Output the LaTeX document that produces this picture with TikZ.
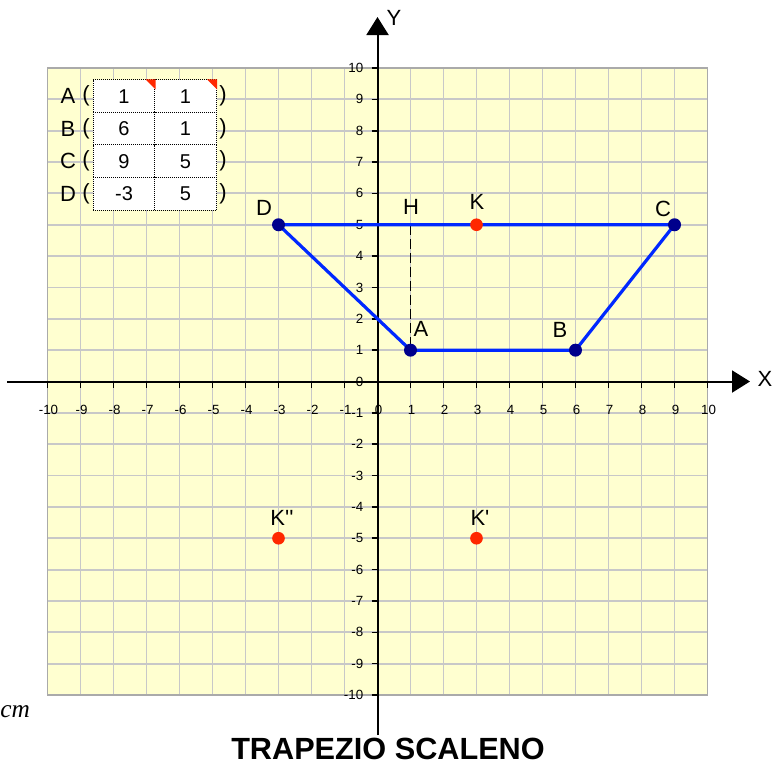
\documentclass[tikz,border=0pt]{standalone}
\usepackage{fontspec}
\setmainfont{Liberation Sans}
\newfontfamily\serifit{Liberation Serif}
\usetikzlibrary{arrows.meta}
\definecolor{gridbg}{RGB}{255,255,208}
\definecolor{gridln}{RGB}{200,200,200}
\definecolor{gridbd}{RGB}{170,170,170}
\definecolor{trapblue}{RGB}{0,40,255}
\definecolor{navy}{RGB}{0,0,140}
\definecolor{kred}{RGB}{255,40,0}
\begin{document}
\begin{tikzpicture}[x=0.75pt,y=-0.75pt,
  ticklab/.style={font=\fontsize{10}{10}\selectfont, inner sep=0pt},
  ptlab/.style={font=\fontsize{16.5}{16.5}\selectfont, inner sep=0pt},
  tablab/.style={font=\fontsize{16.5}{16.5}\selectfont, inner sep=0pt},
  cellnum/.style={draw, dash pattern=on 0.75pt off 0.75pt, line width=0.75pt, fill=white,
     minimum width=46.5pt, minimum height=24.4pt, inner sep=0pt,
     font=\fontsize{15}{15}\selectfont},
  vertex/.style={circle, fill=navy, inner sep=0pt, minimum size=9.75pt},
  kdot/.style={circle, fill=kred, inner sep=0pt, minimum size=9.5pt},
  trap/.style={trapblue, line width=2.4pt, line join=round},
  axisline/.style={black, line width=1.5pt},
  tickline/.style={black, line width=1.2pt},
  corner/.style={fill=kred},
]
\useasboundingbox (0,0) rectangle (774,764);

% ---------- grid ----------
\begin{scope}[shift={(377.5,381.5)}, x=24.75pt, y=23.5125pt]
  \fill[gridbg] (-10,-10) rectangle (10,10);
  \draw[gridln, line width=1.4pt, step=1] (-10,-10) grid (10,10);
  \draw[gridbd, line width=1.1pt] (-10,-10) rectangle (10,10);
\end{scope}

% ---------- axes ----------
\coordinate (xleft) at (7,381.5);
\coordinate (xright) at (750,381.5);
\coordinate (ybottom) at (377.5,735);
\coordinate (ytop) at (377.5,17);
\draw[axisline, -{Triangle[length=13.5pt,width=16.5pt]}] (xleft) -- (xright);
\draw[axisline, -{Triangle[length=13.5pt,width=16.5pt]}] (ybottom) -- (ytop);
\node[ptlab] (xlabel) at (765,379) {X};
\node[ptlab] (ylabel) at (394,18) {Y};

\foreach \i in {-10,...,10} {
  \draw[tickline] ({377.5+33*\i},381.5) -- ({377.5+33*\i},387.5);
  \node[ticklab] (xt\i) at ({378.5+33*\i},410) {\i};
  \draw[tickline] (371.5,{381.5-31.35*\i}) -- (377.5,{381.5-31.35*\i});
  \node[ticklab, anchor=east] (yt\i) at (363.5,{381.5-31.35*\i}) {\i};
}

% ---------- table ----------
\node[cellnum] (a1) at (124,96.25) {1};
\node[cellnum] (a2) at (185.5,96.25) {1};
\node[cellnum] (b1) at (124,128.75) {6};
\node[cellnum] (b2) at (185.5,128.75) {1};
\node[cellnum] (c1) at (124,161.25) {9};
\node[cellnum] (c2) at (185.5,161.25) {5};
\node[cellnum] (d1) at (124,193.75) {-3};
\node[cellnum] (d2) at (185.5,193.75) {5};
\fill[corner] (a1.north east) -- ++(-10,0) -- ++(10,10) -- cycle;
\fill[corner] (a2.north east) -- ++(-10,0) -- ++(10,10) -- cycle;
\foreach \r/\y in {A/96.25,B/128.75,C/161.25,D/193.75} {
  \node[tablab] (tl\r) at (68,\y) {\r};
  \node[tablab] (tp\r) at (86,\y) {(};
  \node[tablab] (tq\r) at (223,\y) {)};
}

% ---------- trapezoid ----------
\begin{scope}[shift={(377.5,381.5)}, x=24.75pt, y=23.5125pt]
  \coordinate (A) at (1,1);
  \coordinate (B) at (6,1);
  \coordinate (C) at (9,5);
  \coordinate (D) at (-3,5);
  \coordinate (H) at (1,5);
  \coordinate (K) at (3,5);
  \coordinate (K1) at (3,-5);
  \coordinate (K2) at (-3,-5);
\end{scope}
\draw[black, line width=1.4pt, dash pattern=on 7.5pt off 3pt] (H) -- (A);
\draw[trap] (A) -- (B) -- (C) -- (D) -- cycle;
\node[vertex] (pA) at (A) {};
\node[vertex] (pB) at (B) {};
\node[vertex] (pC) at (C) {};
\node[vertex] (pD) at (D) {};
\node[kdot] (pK) at (K) {};
\node[kdot] (pK1) at (K1) {};
\node[kdot] (pK2) at (K2) {};

\node[ptlab] (lD) at (264,208) {D};
\node[ptlab] (lH) at (411,207) {H};
\node[ptlab] (lK) at (477,202) {K};
\node[ptlab] (lA) at (421,329) {A};
\node[ptlab] (lB) at (560,330) {B};
\node[ptlab] (lC) at (663,209) {C};
\node[ptlab] (lK2) at (282,518) {\addfontfeature{Ligatures=TeXOff}K''};
\node[ptlab] (lK1) at (480,518) {\addfontfeature{Ligatures=TeXOff}K'};

% ---------- captions ----------
\node[anchor=base west, inner sep=0pt, font=\serifit\itshape\fontsize{19}{19}\selectfont] (cm) at (0,717) {cm};
\node[anchor=base, inner sep=0pt, font=\bfseries\fontsize{23}{23}\selectfont] (title) at (388,759) {TRAPEZIO SCALENO};
\end{tikzpicture}
\end{document}
